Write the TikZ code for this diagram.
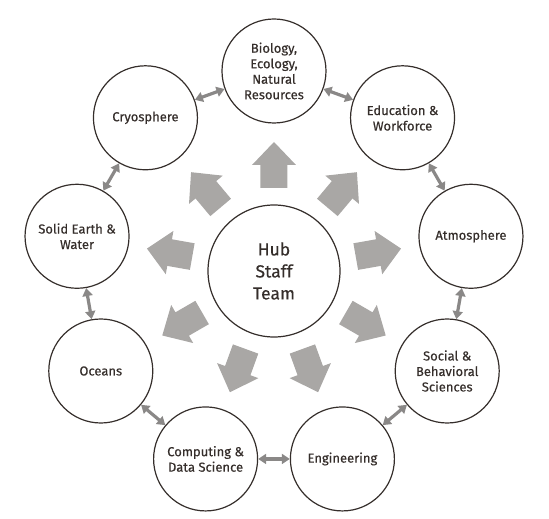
\documentclass[tikz,border=0pt]{standalone}
\usepackage{fontspec}
\setmainfont{Fira Sans}
\newfontfamily\labelfont{Fira Sans}[FakeBold=0.4]
\usetikzlibrary{arrows.meta, positioning}

\definecolor{inkbrown}{HTML}{352E2B}
\definecolor{blockgray}{HTML}{A9A7A5}
\definecolor{linkgray}{HTML}{8A8887}

\tikzset{
  topic/.style={circle, draw=inkbrown, line width=1.2pt, minimum size=104pt,
    inner sep=0pt, align=center, text=inkbrown,
    font=\labelfont\fontsize{13}{15.5}\selectfont},
  hub/.style={topic, minimum size=132pt, font=\labelfont\fontsize{17.5}{22}\selectfont},
  link/.style={linkgray, line width=3.2pt,
    {Triangle[width=10pt,length=8pt]}-{Triangle[width=10pt,length=8pt]}},
  blockarrow/.style={fill=blockgray}
}

\begin{document}
\begin{tikzpicture}[x=1pt, y=1pt]
        \useasboundingbox (-274,-248) rectangle (275,271);

        % Hub
        \node[hub] (hub) at (0,0) {Hub\\Staff\\Team};

        % Outer circles
        \node[topic] (bio) at (90:200) {Biology,\\Ecology,\\Natural\\Resources};
        \node[topic] (edu) at (50:200) {Education \&\\Workforce};
        \node[topic] (atm) at (10:200) {Atmosphere};
        \node[topic] (soc) at (-30:200) {Social \&\\Behavioral\\Sciences};
        \node[topic] (eng) at (-70:200) {Engineering};
        \node[topic] (comp) at (-110:200) {Computing \&\\Data Science};
        \node[topic] (ocean) at (-150:200) {Oceans};
        \node[topic] (earth) at (170:200) {Solid Earth \&\\Water};
        \node[topic] (cryo) at (130:200) {Cryosphere};

        % Block arrows from the hub
        \foreach \a in {90,50,10,-30,-70,-110,-150,170,130}
          \fill[blockarrow, shift={(\a:105)}, rotate=\a]
            (-22,-13.5) -- (1,-13.5) -- (1,-22) -- (24,0) -- (1,22) -- (1,13.5) -- (-22,13.5) -- cycle;

        % Links around the ring
        \draw[link] (bio) -- (edu);
        \draw[link] (edu) -- (atm);
        \draw[link] (atm) -- (soc);
        \draw[link] (soc) -- (eng);
        \draw[link] (eng) -- (comp);
        \draw[link] (comp) -- (ocean);
        \draw[link] (ocean) -- (earth);
        \draw[link] (earth) -- (cryo);
        \draw[link] (cryo) -- (bio);
      \end{tikzpicture}
\end{document}
